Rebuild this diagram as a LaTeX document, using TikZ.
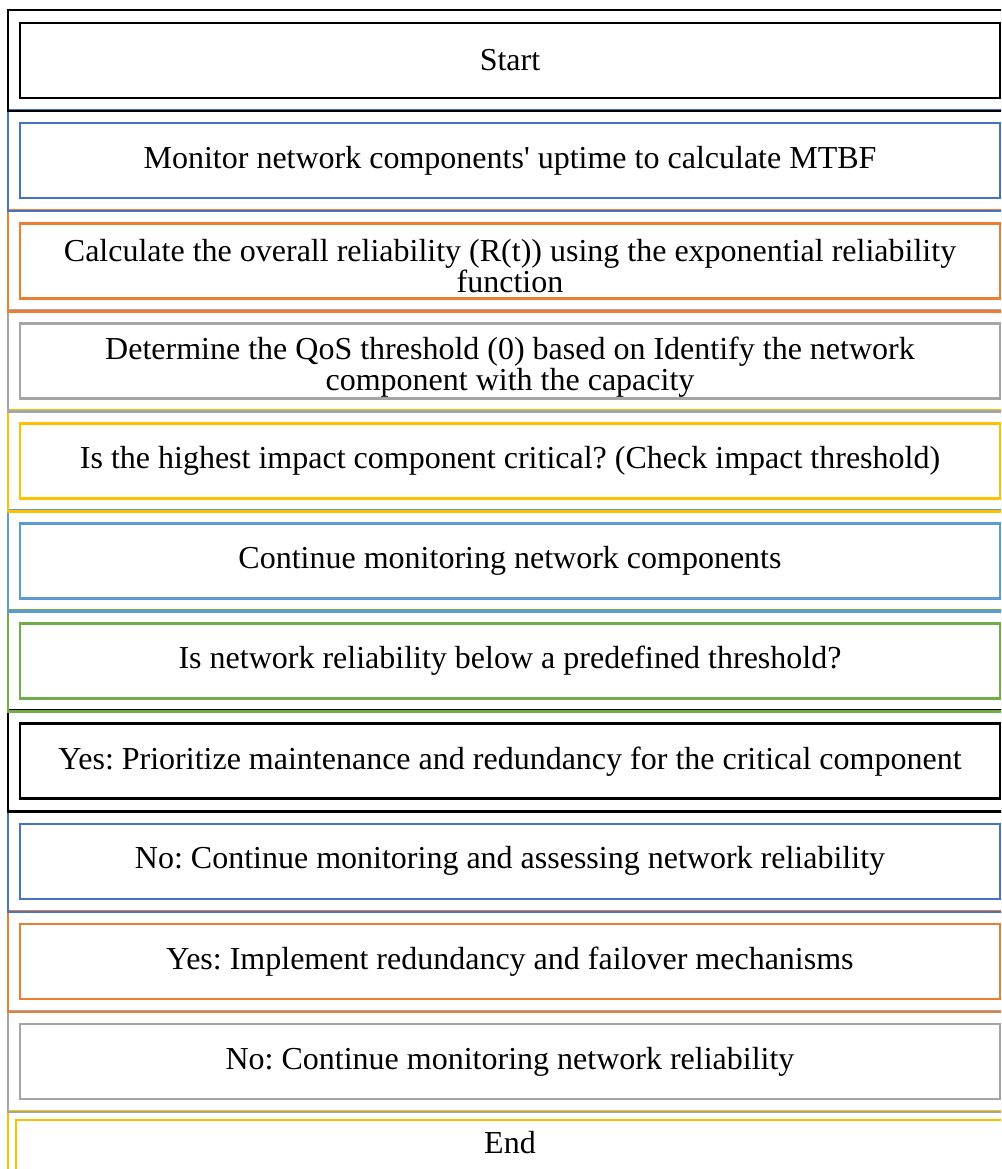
\documentclass[tikz,border=0pt]{standalone}
\usepackage{fontspec}
\setmainfont{Liberation Serif}
\definecolor{cblack}{RGB}{0,0,0}
\definecolor{cblue}{RGB}{68,114,196}
\definecolor{corange}{RGB}{237,125,49}
\definecolor{cgray}{RGB}{165,165,165}
\definecolor{cgold}{RGB}{255,192,0}
\definecolor{clblue}{RGB}{91,155,213}
\definecolor{cgreen}{RGB}{112,173,71}
\frenchspacing
\begin{document}
\begin{tikzpicture}[x=1pt,y=-1pt,
  frame/.style={line width=2.6pt},
  stepbox/.style={draw=#1, line width=2.6pt, minimum width=980pt, minimum height=75pt,
    align=center, inner sep=2pt, text=black, font=\fontsize{32}{33}\selectfont},
  steptext/.style={align=center, inner sep=0pt, text=black, font=\fontsize{32}{31}\selectfont}]
\useasboundingbox (0,0) rectangle (1001,1169);
\clip (0,0) rectangle (1001,1169);
\fill[white] (0,0) rectangle (1001,1169);
% outer frames, drawn last-to-first so that each bottom edge lies on top
\draw[frame,cgold]   (8,1111.1) rectangle (1015,1185);
\draw[frame,cgray]   (8,1011.0) rectangle (1015,1112.0);
\draw[frame,corange] (8,910.9) rectangle (1015,1011.9);
\draw[frame,cblue]   (8,810.8) rectangle (1015,911.8);
\draw[frame,cblack]  (8,710.7) rectangle (1015,811.7);
\draw[frame,cgreen]  (8,610.6) rectangle (1015,711.6);
\draw[frame,clblue]  (8,510.5) rectangle (1015,611.5);
\draw[frame,cgold]   (8,410.4) rectangle (1015,511.4);
\draw[frame,cgray]   (8,310.3) rectangle (1015,411.3);
\draw[frame,corange] (8,210.2) rectangle (1015,311.2);
\draw[frame,cblue]   (8,110.1) rectangle (1015,211.1);
\draw[frame,cblack]  (8,10.0) rectangle (1015,111.0);
% inner step boxes
\node[stepbox=cblack]  (s1)  at (510,60.5)  {Start};
\node[stepbox=cblue]   (s2)  at (510,160.6) {Monitor network components\textquotesingle{} uptime to calculate MTBF};
\node[stepbox=corange] (s3)  at (510,260.7) {};
\node[steptext] (t3) at (510,266) {Calculate the overall reliability (R(t)) using the exponential reliability\\function};
\node[stepbox=cgray]   (s4)  at (510,360.8) {};
\node[steptext] (t4) at (510,367) {Determine the QoS threshold (0) based on Identify the network\\component with the capacity};
\node[stepbox=cgold]   (s5)  at (510,460.9) {Is the highest impact component critical? (Check impact threshold)};
\node[stepbox=clblue]  (s6)  at (510,561.0) {Continue monitoring network components};
\node[stepbox=cgreen]  (s7)  at (510,661.1) {Is network reliability below a predefined threshold?};
\node[stepbox=cblack]  (s8)  at (510,761.2) {Yes: Prioritize maintenance and redundancy for the critical component};
\node[stepbox=cblue]   (s9)  at (510,861.3) {No: Continue monitoring and assessing network reliability};
\node[stepbox=corange] (s10) at (510,961.4) {Yes: Implement redundancy and failover mechanisms};
\node[stepbox=cgray]   (s11) at (510,1061.5) {No: Continue monitoring network reliability};
\node[draw=cgold, line width=2.6pt, minimum width=1000pt, minimum height=75pt] (s12) at (516,1157.5) {};
\node[steptext] (t12) at (510,1143) {End};
\end{tikzpicture}
\end{document}
